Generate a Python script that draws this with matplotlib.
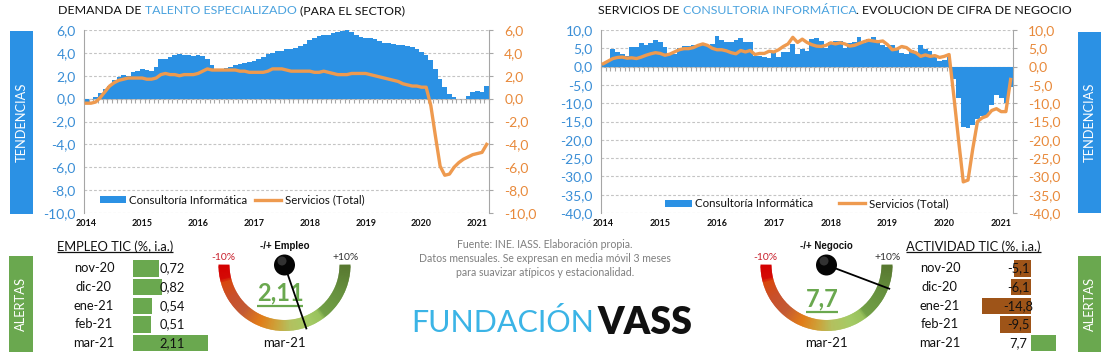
import numpy as np
import matplotlib
matplotlib.use('Agg')
import matplotlib.pyplot as plt
from matplotlib.patches import Rectangle, Wedge, Circle
from matplotlib.ticker import FuncFormatter
from matplotlib.colors import LinearSegmentedColormap
import matplotlib.transforms as mtransforms

plt.rcParams['font.family'] = ['Lato', 'DejaVu Sans']

# ---------------- data ----------------
years = ['2014', '2015', '2016', '2017', '2018', '2019', '2020', '2021']

talento_consultoria = [
    -0.3, 0.0, 0.1, 0.5, 0.8, 1.1, 1.6, 1.9, 2.1, 2.0, 2.3, 2.4,
    2.6, 2.5, 2.4, 2.8, 3.5, 3.5, 3.6, 3.8, 3.9, 3.8, 3.8, 3.7,
    3.8, 3.7, 3.5, 2.9, 2.6, 2.6, 2.7, 2.8, 2.9, 3.0, 3.1, 3.2,
    3.3, 3.5, 3.6, 3.9, 4.0, 4.2, 4.2, 4.3, 4.3, 4.4, 4.6, 4.8,
    5.1, 5.3, 5.5, 5.6, 5.6, 5.7, 5.8, 5.9, 6.0, 5.8, 5.6, 5.4,
    5.3, 5.3, 5.2, 5.0, 4.9, 4.9, 4.8, 4.7, 4.7, 4.6, 4.5, 4.3,
    4.1, 3.8, 3.4, 2.6, 1.7, 1.0, 0.4, 0.1, 0.0, 0.0, 0.2, 0.6,
    0.7, 0.6, 1.1]
talento_servicios = [
    -0.4, -0.4, -0.3, 0.1, 0.6, 1.1, 1.4, 1.6, 1.7, 1.8, 1.8, 1.8,
    1.8, 1.7, 1.7, 1.8, 2.1, 2.2, 2.1, 2.1, 2.0, 2.1, 2.1, 2.1,
    2.2, 2.4, 2.6, 2.5, 2.5, 2.5, 2.5, 2.5, 2.5, 2.4, 2.4, 2.3,
    2.3, 2.3, 2.3, 2.4, 2.6, 2.6, 2.6, 2.5, 2.4, 2.4, 2.4, 2.4,
    2.4, 2.3, 2.3, 2.4, 2.3, 2.2, 2.1, 2.1, 2.1, 2.2, 2.2, 2.2,
    2.2, 2.1, 2.0, 1.9, 1.8, 1.7, 1.6, 1.5, 1.3, 1.2, 1.1, 1.1,
    1.0, 1.0, -0.6, -3.3, -5.9, -6.7, -6.6, -6.0, -5.6, -5.3, -5.1, -4.9,
    -4.8, -4.7, -4.0]

negocio_consultoria = [
    0.9, 1.5, 4.8, 4.1, 3.5, 2.8, 5.3, 5.4, 6.4, 5.9, 6.4, 7.3,
    6.8, 5.4, 3.4, 3.4, 5.2, 5.5, 5.5, 5.8, 5.8, 5.8, 6.0, 6.3,
    8.3, 7.3, 6.6, 6.6, 7.2, 7.9, 6.6, 6.6, 3.0, 2.8, 2.6, 2.4,
    3.8, 2.6, 3.9, 3.9, 6.1, 3.4, 4.9, 4.2, 7.5, 7.7, 6.9, 5.0,
    6.8, 7.0, 7.1, 5.0, 6.5, 6.8, 8.2, 6.5, 7.5, 8.2, 6.9, 5.8,
    5.3, 6.0, 5.1, 3.8, 3.4, 4.5, 3.6, 5.8, 4.8, 4.3, 3.0, 1.5,
    1.8, 2.5, -3.5, -8.6, -16.4, -16.8, -16.0, -14.3, -13.5, -13.5, -10.5, -7.8,
    -8.6, -9.9, -5.6]
negocio_servicios = [
    0.8, 1.5, 2.2, 2.5, 2.6, 2.3, 2.4, 2.2, 2.6, 3.1, 3.5, 3.8,
    3.6, 3.1, 3.4, 4.0, 4.6, 4.9, 4.9, 5.2, 5.8, 6.2, 5.8, 5.0,
    4.6, 4.6, 4.3, 3.8, 3.5, 4.4, 4.0, 4.4, 3.3, 3.6, 3.6, 4.2,
    4.0, 4.6, 5.5, 6.2, 8.0, 6.6, 7.5, 6.6, 6.0, 5.6, 5.5, 5.8,
    6.5, 6.2, 6.5, 6.2, 5.6, 5.8, 6.3, 6.8, 7.2, 7.0, 6.8, 7.0,
    6.0, 4.6, 4.8, 5.5, 5.2, 4.2, 3.8, 2.8, 3.2, 2.8, 3.0, 2.5,
    2.8, 3.3, -8.0, -20.0, -31.5, -31.0, -22.5, -15.0, -14.0, -13.5, -12.0, -11.5,
    -12.3, -12.3, -3.5]

alert_months = ['nov-20', 'dic-20', 'ene-21', 'feb-21', 'mar-21']
empleo_tic = [0.72, 0.82, 0.54, 0.51, 2.11]
actividad_tic = [-5.1, -6.1, -14.8, -9.5, 7.7]
gauge_range = [-10, 10]

# ---------------- style ----------------
W, H = 1111, 359
BLUE = '#2B91E4'
BLUE_TXT = '#3A8ED6'
TITLE_BLUE = '#4AA2DE'
ORANGE = '#EE9A4F'
ORANGE_TXT = '#E8893A'
GREEN = '#6AA84F'
BROWN = '#9E5418'
GREY = '#A6A6A6'
GRID = '#C4C4C4'
TXT = '#111111'

fig = plt.figure(figsize=(W / 100, H / 100), dpi=100)


def fax(x0, y0, x1, y1):
    return fig.add_axes([x0 / W, 1 - y1 / H, (x1 - x0) / W, (y1 - y0) / H])


def fmt1(v, pos=None):
    return f"{v:.1f}".replace('.', ',')


def make_chart(box, bars, line, ylim, step, legend_xy, colspace):
    ax = fax(*box)
    n = len(bars)
    x = np.arange(n)
    hb = ax.bar(x, bars, width=1.0, color=BLUE, zorder=2, linewidth=0,
                label='Consultoría Informática')
    ax.set_xlim(-0.5, n - 0.5)
    ax.set_ylim(*ylim)
    ticks = np.arange(ylim[0], ylim[1] + step / 2, step)
    ax.set_yticks(ticks)
    ax.yaxis.set_major_formatter(FuncFormatter(fmt1))
    ax.tick_params(axis='y', labelcolor=BLUE_TXT, labelsize=10, length=0, pad=6)
    ax.set_xticks(x[::12])
    ax.set_xticklabels(years, fontsize=6.5, fontweight='bold', color=TXT)
    ax.tick_params(axis='x', length=0, pad=4)
    ax.yaxis.grid(True, linestyle=(0, (2.5, 1.8)), color=GRID, lw=0.8, zorder=0)
    ax.set_axisbelow(True)
    for s in ['top', 'bottom', 'right']:
        ax.spines[s].set_visible(False)
    ax.spines['left'].set_color(GREY)
    # zero axis with monthly ticks
    zpos = (0 - ylim[0]) / (ylim[1] - ylim[0])
    sec = ax.secondary_xaxis(zpos)
    sec.set_xticks(np.arange(-0.5, n, 1.0))
    sec.tick_params(axis='x', which='both', direction='in', length=3, color=GREY,
                    labeltop=False, labelbottom=False, width=0.8)
    for s in sec.spines.values():
        s.set_color(GREY)
    axr = ax.twinx()
    hl, = axr.plot(x, line, color=ORANGE, lw=2.4, zorder=3, solid_joinstyle='round',
                   label='Servicios (Total)')
    axr.set_ylim(*ylim)
    axr.set_yticks(ticks)
    axr.yaxis.set_major_formatter(FuncFormatter(fmt1))
    axr.tick_params(axis='y', labelcolor=ORANGE_TXT, labelsize=10, length=3,
                    color=GREY, pad=8)
    for s in ['top', 'bottom', 'left']:
        axr.spines[s].set_visible(False)
    axr.spines['right'].set_color(GREY)
    leg = axr.legend(handles=[hb, hl], loc='center', bbox_to_anchor=legend_xy,
                     ncol=2, frameon=False, fontsize=8.3, handlelength=2.3,
                     handleheight=0.6, columnspacing=colspace, handletextpad=0.3,
                     borderaxespad=0, borderpad=0)
    for t in leg.get_texts():
        t.set_color(TXT)
    return ax


make_chart((84, 30, 489, 213), talento_consultoria, talento_servicios, (-10, 6), 2,
           (0.365, 0.071), 0.6)
make_chart((601, 30, 1013, 213), negocio_consultoria, negocio_servicios, (-40, 10), 5,
           (0.50, 0.05), 2.2)

# ---------------- overlay ----------------
ov = fig.add_axes([0, 0, 1, 1])
ov.set_xlim(0, W)
ov.set_ylim(H, 0)
ov.axis('off')


def multi_title(x, y, parts, size=8.9):
    prev = None
    for txt, col in parts:
        gap = size * 0.26 if txt.startswith(' ') else 0
        txt = txt.strip()
        if prev is None:
            prev = ov.text(x, y, txt, color=col, fontsize=size, va='center', ha='left')
        else:
            prev = ov.annotate(txt, xy=(1, 0), xycoords=prev, xytext=(gap, 0),
                               textcoords='offset points', va='bottom', ha='left',
                               color=col, fontsize=size)


multi_title(58, 10.5, [('DEMANDA DE', TXT), (' TALENTO ESPECIALIZADO', TITLE_BLUE),
                       (' (PARA EL SECTOR)', TXT)])
multi_title(598, 10.5, [('SERVICIOS DE', TXT), (' CONSULTORIA INFORMÁTICA', TITLE_BLUE),
                        ('. EVOLUCION DE CIFRA DE NEGOCIO', TXT)])


def side_box(x0, y0, x1, y1, color, label):
    ov.add_patch(Rectangle((x0, y0), x1 - x0, y1 - y0, facecolor=color, edgecolor='none'))
    ov.text((x0 + x1) / 2, (y0 + y1) / 2, label, rotation=90, color='white',
            fontsize=9.3, ha='center', va='center')


side_box(10, 31, 33, 214, BLUE, 'TENDENCIAS')
side_box(1078, 32, 1101, 213, BLUE, 'TENDENCIAS')
side_box(9, 256, 33, 352, GREEN, 'ALERTAS')
side_box(1078, 256, 1101, 352, GREEN, 'ALERTAS')


def underline(txt, color=TXT, lw=0.9, off=1.5):
    fig.canvas.draw()
    bb = txt.get_window_extent().transformed(ov.transData.inverted())
    x0, x1 = min(bb.x0, bb.x1), max(bb.x0, bb.x1)
    yb = max(bb.y0, bb.y1)
    ov.plot([x0, x1], [yb - off, yb - off], color=color, lw=lw, solid_capstyle='butt')


def fmt_val(v):
    s = f"{v:.2f}" if abs(round(v, 1) - v) > 1e-9 else f"{v:.1f}"
    return s.replace('.', ',')


# ---- tables ----
def table(box, values, xlim, label_x, value_x, header, header_x):
    tax = fax(*box)
    rows = np.arange(len(values))
    cols = [GREEN if v >= 0 else BROWN for v in values]
    tax.barh(rows, values, height=0.88, color=cols, linewidth=0)
    tax.set_xlim(*xlim)
    tax.set_ylim(len(values) - 0.5, -0.5)
    tax.axis('off')
    tr = mtransforms.blended_transform_factory(ov.transData, tax.transData)
    for i, (m, v) in enumerate(zip(alert_months, values)):
        ov.text(label_x, i, m, transform=tr, ha='center', va='center', fontsize=9.3, color=TXT)
        tax.text(value_x, i, fmt_val(v), transform=tr, ha='center', va='center',
                 fontsize=9.3, color=TXT, zorder=5)
    h = ov.text(header_x, 247, header, ha='left', va='center', fontsize=9.3, color=TXT)
    return h


h1 = table((133, 259, 215, 352.5), empleo_tic, (0, 82 / 35.5), 94, 172,
           'EMPLEO TIC (%, i.a.)', 57)
h2 = table((975, 259, 1062, 352.5), actividad_tic, (-(1031 - 975) / 3.3, (1062 - 1031) / 3.3),
           940, 1018, 'ACTIVIDAD TIC (%, i.a.)', 906)
underline(h1)
underline(h2)

# ---- gauges ----
gcmap = LinearSegmentedColormap.from_list('g', [
    (0.00, '#D40000'), (0.07, '#D40A06'), (0.09, '#D8480E'), (0.18, '#C8502C'),
    (0.27, '#C35A34'), (0.37, '#E27C18'), (0.46, '#CDA23A'), (0.53, '#B4C05E'),
    (0.63, '#A5CB66'), (0.70, '#98C25C'), (0.72, '#72A046'), (0.86, '#66903E'),
    (1.00, '#587830')])


def gauge(cx, cy, value, title, label):
    lo, hi = gauge_range
    r_out, w = 66, 11
    nseg = 160
    for k in range(nseg):
        f0, f1 = k / nseg, (k + 1) / nseg
        ov.add_patch(Wedge((cx, cy), r_out, 180 - f1 * 180 - 0.4, 180 - f0 * 180 + 0.4,
                           width=w, facecolor=gcmap((f0 + f1) / 2), edgecolor='none'))
    frac = (min(max(value, lo), hi) - lo) / (hi - lo)
    a = np.deg2rad(180 - frac * 180)
    L = r_out + 2
    ov.plot([cx, cx + L * np.cos(a)], [cy, cy + L * np.sin(a)], color='black', lw=1.3,
            solid_capstyle='butt', zorder=4)
    ov.add_patch(Circle((cx, cy), 10.5, facecolor='#050505', edgecolor='none', zorder=5))
    ov.add_patch(Circle((cx - 2.5, cy - 4), 4.5, facecolor='#6a6a6a', edgecolor='none',
                        alpha=0.45, zorder=6))
    ov.text(cx, cy - 19, title, ha='center', va='center', fontsize=7, fontweight='bold',
            family=['Liberation Sans', 'DejaVu Sans'], color=TXT)
    ov.text(cx - 61, cy - 7, f"{lo}%", ha='center', va='center', fontsize=7.5, color='#C8202C')
    ov.text(cx + 61, cy - 8, f"+{hi}%", ha='center', va='center', fontsize=7.5, color='#333333')
    ov.text(cx, 343, label, ha='center', va='center', fontsize=9.5, color=TXT)
    return frac


gauge(284.5, 265, empleo_tic[-1], '-/+ Empleo', alert_months[-1])
gauge(826.5, 265, actividad_tic[-1], '-/+ Negocio', alert_months[-1])

v1 = ov.text(280, 293, fmt_val(empleo_tic[-1]), ha='center', va='center',
             fontsize=17, fontweight='bold', color=GREEN)
v2 = ov.text(822, 299, fmt_val(actividad_tic[-1]), ha='center', va='center',
             fontsize=17, fontweight='bold', color=GREEN)
underline(v1, color=GREEN, lw=1.6, off=-1)
underline(v2, color=GREEN, lw=1.6, off=-1)

# ---- source note ----
for yy, line in zip([245, 258.5, 272.5], [
        'Fuente: INE. IASS. Elaboración propia.',
        'Datos mensuales. Se expresan en media móvil 3 meses',
        'para suavizar atípicos y estacionalidad.']):
    ov.text(545, yy, line, ha='center', va='center', fontsize=7.6, color='#7F7F7F')

# ---- logo ----
ov.text(411, 323, 'FUNDACIÓN', ha='left', va='center', fontsize=22, color='#3BB4E6')
ov.text(597, 323, 'VASS', ha='left', va='center', fontsize=27, fontweight='heavy', color='#111111')

fig.savefig('out.png', dpi=100)
